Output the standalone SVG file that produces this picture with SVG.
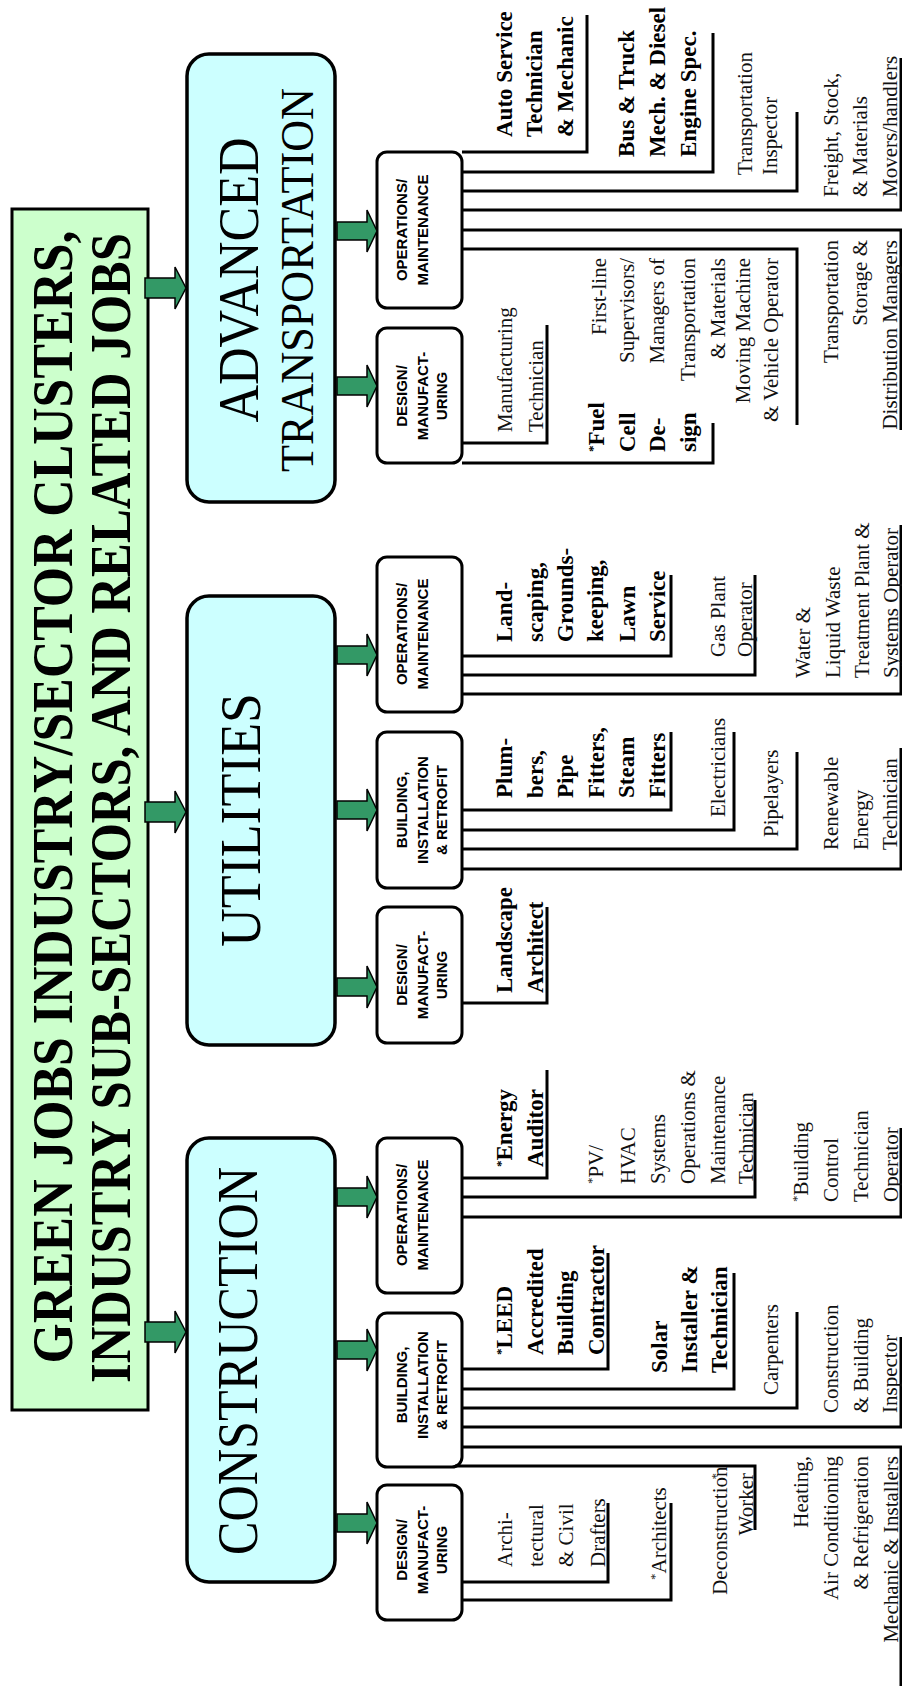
<svg xmlns="http://www.w3.org/2000/svg" width="902" height="1686" viewBox="0 0 902 1686">
<style>
.bg{fill:#fff}
.title{fill:#CCFFCC;stroke:#000;stroke-width:3}
.sector{fill:#CCFFFF;stroke:#000;stroke-width:3.5}
.sub{fill:#fff;stroke:#000;stroke-width:3}
.arrow{fill:#339966;stroke:#000;stroke-width:1.5;stroke-linejoin:miter}
.conn{fill:none;stroke:#000;stroke-width:3;stroke-linejoin:miter}
.tt{font-family:"Liberation Serif","Times New Roman",serif;font-weight:bold;font-size:56px;text-anchor:middle;fill:#000}
.st{font-family:"Liberation Serif","Times New Roman",serif;font-size:58px;text-anchor:middle;fill:#000}
.lab{font-family:"Liberation Sans",Arial,sans-serif;font-weight:bold;font-size:15px;text-anchor:middle;fill:#000}
.jb{font-family:"Liberation Serif","Times New Roman",serif;font-weight:bold;font-size:23px;fill:#000}
.jr{font-family:"Liberation Serif","Times New Roman",serif;font-size:21px;fill:#111}
.end{text-anchor:end}
.ast{font-size:13px}
</style>
<rect class="bg" x="0" y="0" width="902" height="1686"/>

<g id="title">
<rect class="title" x="12" y="209" width="136" height="1201"/>
<text class="tt" transform="rotate(-90)"><tspan x="-797" y="72" textLength="1133" lengthAdjust="spacingAndGlyphs">GREEN JOBS INDUSTRY/SECTOR CLUSTERS,</tspan><tspan x="-808" y="130" textLength="1150" lengthAdjust="spacingAndGlyphs">INDUSTRY SUB-SECTORS, AND RELATED JOBS</tspan></text>
</g>

<g id="sector-advanced-transportation">
<rect class="sector" x="187" y="54" width="148" height="448" rx="22"/>
<text class="st" transform="rotate(-90)"><tspan x="-280" y="258" textLength="285" lengthAdjust="spacingAndGlyphs">ADVANCED</tspan><tspan x="-280" y="313" font-size="46" textLength="384" lengthAdjust="spacingAndGlyphs">TRANSPORTATION</tspan></text>
</g>
<g id="sector-utilities">
<rect class="sector" x="187" y="596" width="148" height="449" rx="22"/>
<text class="st" transform="rotate(-90)" x="-820" y="260" textLength="254" lengthAdjust="spacingAndGlyphs">UTILITIES</text>
</g>
<g id="sector-construction">
<rect class="sector" x="187" y="1138" width="148" height="444" rx="22"/>
<text class="st" transform="rotate(-90)" x="-1361" y="257" textLength="388" lengthAdjust="spacingAndGlyphs">CONSTRUCTION</text>
</g>

<g id="at-om">
<rect class="sub" x="377" y="152" width="85" height="156" rx="10"/>
<text class="lab" transform="rotate(-90)"><tspan x="-230" y="407">OPERATIONS/</tspan><tspan x="-230" y="428">MAINTENANCE</tspan></text>
</g>
<g id="at-design">
<rect class="sub" x="377" y="328" width="85" height="135" rx="10"/>
<text class="lab" transform="rotate(-90)"><tspan x="-396" y="407">DESIGN/</tspan><tspan x="-396" y="428">MANUFACT-</tspan><tspan x="-396" y="447">URING</tspan></text>
</g>
<g id="ut-om">
<rect class="sub" x="377" y="557" width="85" height="155" rx="10"/>
<text class="lab" transform="rotate(-90)"><tspan x="-634" y="407">OPERATIONS/</tspan><tspan x="-634" y="428">MAINTENANCE</tspan></text>
</g>
<g id="ut-building">
<rect class="sub" x="377" y="732" width="85" height="156" rx="10"/>
<text class="lab" transform="rotate(-90)"><tspan x="-810" y="407">BUILDING,</tspan><tspan x="-810" y="428">INSTALLATION</tspan><tspan x="-810" y="447">&amp; RETROFIT</tspan></text>
</g>
<g id="ut-design">
<rect class="sub" x="377" y="907" width="85" height="136" rx="10"/>
<text class="lab" transform="rotate(-90)"><tspan x="-975" y="407">DESIGN/</tspan><tspan x="-975" y="428">MANUFACT-</tspan><tspan x="-975" y="447">URING</tspan></text>
</g>
<g id="co-om">
<rect class="sub" x="377" y="1138" width="85" height="155" rx="10"/>
<text class="lab" transform="rotate(-90)"><tspan x="-1215" y="407">OPERATIONS/</tspan><tspan x="-1215" y="428">MAINTENANCE</tspan></text>
</g>
<g id="co-building">
<rect class="sub" x="377" y="1313" width="85" height="154" rx="10"/>
<text class="lab" transform="rotate(-90)"><tspan x="-1385" y="407">BUILDING,</tspan><tspan x="-1385" y="428">INSTALLATION</tspan><tspan x="-1385" y="447">&amp; RETROFIT</tspan></text>
</g>
<g id="co-design">
<rect class="sub" x="377" y="1485" width="85" height="135" rx="10"/>
<text class="lab" transform="rotate(-90)"><tspan x="-1550" y="407">DESIGN/</tspan><tspan x="-1550" y="428">MANUFACT-</tspan><tspan x="-1550" y="447">URING</tspan></text>
</g>

<g id="connectors">
<path class="arrow" d="M145,278H175V267L186,288L175,309V298H145Z"/>
<path class="arrow" d="M145,802H175V791L186,812L175,833V822H145Z"/>
<path class="arrow" d="M145,1322H175V1311L186,1332L175,1353V1342H145Z"/>
<path class="arrow" d="M337,222H367V210L377,231L367,252V240H337Z"/>
<path class="arrow" d="M337,377H367V365L377,386L367,407V395H337Z"/>
<path class="arrow" d="M337,646H367V634L377,655L367,676V664H337Z"/>
<path class="arrow" d="M337,801H367V789L377,810L367,831V819H337Z"/>
<path class="arrow" d="M337,978H367V966L377,987L367,1008V996H337Z"/>
<path class="arrow" d="M337,1188H367V1176L377,1197L367,1218V1206H337Z"/>
<path class="arrow" d="M337,1341H367V1329L377,1350L367,1371V1359H337Z"/>
<path class="arrow" d="M337,1514H367V1502L377,1523L367,1544V1532H337Z"/>
<polyline class="conn" points="462,152 587,152 587,15"/>
<polyline class="conn" points="462,172 713,172 713,33"/>
<polyline class="conn" points="462,191 797,191 797,112"/>
<polyline class="conn" points="462,210 901,210 901,58"/>
<polyline class="conn" points="462,230 901,230 901,430"/>
<polyline class="conn" points="462,249 797,249 797,425"/>
<polyline class="conn" points="462,443 547,443 547,325"/>
<polyline class="conn" points="462,463 713,463 713,423"/>
<polyline class="conn" points="462,656 671,656 671,575"/>
<polyline class="conn" points="462,675 755,675 755,575"/>
<polyline class="conn" points="462,694 901,694 901,525"/>
<polyline class="conn" points="462,810 671,810 671,732"/>
<polyline class="conn" points="462,830 734,830 734,732"/>
<polyline class="conn" points="462,849 797,849 797,752"/>
<polyline class="conn" points="462,869 901,869 901,748"/>
<polyline class="conn" points="462,1003 547,1003 547,907"/>
<polyline class="conn" points="462,1178 547,1178 547,1070"/>
<polyline class="conn" points="462,1197 755,1197 755,1100"/>
<polyline class="conn" points="462,1217 901,1217 901,1128"/>
<polyline class="conn" points="462,1369 608,1369 608,1253"/>
<polyline class="conn" points="462,1389 734,1389 734,1273"/>
<polyline class="conn" points="462,1408 797,1408 797,1312"/>
<polyline class="conn" points="462,1427 901,1427 901,1337"/>
<polyline class="conn" points="462,1447 901,1447 901,1686"/>
<polyline class="conn" points="455,1466 755,1466 755,1530"/>
<polyline class="conn" points="462,1582 608,1582 608,1503"/>
<polyline class="conn" points="462,1600 671,1600 671,1503"/>
</g>

<g id="job-auto-service"><text class="jb" transform="rotate(-90)"><tspan x="-137" y="512">Auto Service</tspan><tspan x="-137" y="542">Technician</tspan><tspan x="-137" y="573">&amp; Mechanic</tspan></text></g>
<g id="job-bus-truck"><text class="jb" transform="rotate(-90)"><tspan x="-157" y="634">Bus &amp; Truck</tspan><tspan x="-157" y="665">Mech. &amp; Diesel</tspan><tspan x="-157" y="696">Engine Spec.</tspan></text></g>
<g id="job-transport-inspector"><text class="jr" transform="rotate(-90)"><tspan x="-175" y="752">Transportation</tspan><tspan x="-175" y="777">Inspector</tspan></text></g>
<g id="job-freight"><text class="jr" transform="rotate(-90)"><tspan x="-197" y="838">Freight, Stock,</tspan><tspan x="-197" y="867">&amp; Materials</tspan><tspan x="-197" y="897">Movers/handlers</tspan></text></g>
<g id="job-storage-managers"><text class="jr end" transform="rotate(-90)"><tspan x="-240" y="838">Transportation</tspan><tspan x="-240" y="867">Storage &amp;</tspan><tspan x="-240" y="897">Distribution Managers</tspan></text></g>
<g id="job-first-line"><text class="jr end" transform="rotate(-90)"><tspan x="-258" y="606">First-line</tspan><tspan x="-258" y="634">Supervisors/</tspan><tspan x="-258" y="664">Managers of</tspan><tspan x="-258" y="695">Transportation</tspan><tspan x="-258" y="725">&amp; Materials</tspan><tspan x="-258" y="750">Moving Machine</tspan><tspan x="-258" y="778">&amp; Vehicle Operator</tspan></text></g>
<g id="job-manufacturing-tech"><text class="jr" transform="rotate(-90)"><tspan x="-432" y="512">Manufacturing</tspan><tspan x="-432" y="543">Technician</tspan></text></g>
<g id="job-fuel-cell"><text class="jb" transform="rotate(-90)"><tspan x="-452" y="597" class="ast">*</tspan><tspan y="604">Fuel</tspan><tspan x="-452" y="635">Cell</tspan><tspan x="-452" y="665">De-</tspan><tspan x="-452" y="696">sign</tspan></text></g>

<g id="job-landscaping"><text class="jb" transform="rotate(-90)"><tspan x="-642" y="512">Land-</tspan><tspan x="-642" y="543">scaping,</tspan><tspan x="-642" y="573">Grounds-</tspan><tspan x="-642" y="603">keeping,</tspan><tspan x="-642" y="635">Lawn</tspan><tspan x="-642" y="665">Service</tspan></text></g>
<g id="job-gas-plant"><text class="jr" transform="rotate(-90)"><tspan x="-657" y="725">Gas Plant</tspan><tspan x="-657" y="752">Operator</tspan></text></g>
<g id="job-water"><text class="jr" transform="rotate(-90)"><tspan x="-678" y="810">Water &amp;</tspan><tspan x="-678" y="840">Liquid Waste</tspan><tspan x="-678" y="869">Treatment Plant &amp;</tspan><tspan x="-678" y="898">Systems Operator</tspan></text></g>
<g id="job-plumbers"><text class="jb" transform="rotate(-90)"><tspan x="-798" y="512">Plum-</tspan><tspan x="-798" y="543">bers,</tspan><tspan x="-798" y="573">Pipe</tspan><tspan x="-798" y="604">Fitters,</tspan><tspan x="-798" y="634">Steam</tspan><tspan x="-798" y="665">Fitters</tspan></text></g>
<g id="job-electricians"><text class="jr" transform="rotate(-90)" x="-817" y="725">Electricians</text></g>
<g id="job-pipelayers"><text class="jr" transform="rotate(-90)" x="-837" y="778">Pipelayers</text></g>
<g id="job-renewable"><text class="jr" transform="rotate(-90)" font-size="23"><tspan x="-850" y="838">Renewable</tspan><tspan x="-850" y="868">Energy</tspan><tspan x="-850" y="897">Technician</tspan></text></g>
<g id="job-landscape-architect"><text class="jb" transform="rotate(-90)"><tspan x="-993" y="512">Landscape</tspan><tspan x="-993" y="543">Architect</tspan></text></g>

<g id="job-energy-auditor"><text class="jb" transform="rotate(-90)"><tspan x="-1167" y="505" class="ast">*</tspan><tspan y="512">Energy</tspan><tspan x="-1167" y="543">Auditor</tspan></text></g>
<g id="job-pv-hvac"><text class="jr" transform="rotate(-90)"><tspan x="-1184" y="596" class="ast">*</tspan><tspan y="603">PV/</tspan><tspan x="-1184" y="635">HVAC</tspan><tspan x="-1184" y="665">Systems</tspan><tspan x="-1184" y="695">Operations &amp;</tspan><tspan x="-1184" y="725">Maintenance</tspan><tspan x="-1184" y="753">Technician</tspan></text></g>
<g id="job-building-control"><text class="jr" transform="rotate(-90)"><tspan x="-1202" y="801" class="ast">*</tspan><tspan y="808">Building</tspan><tspan x="-1202" y="838">Control</tspan><tspan x="-1202" y="868">Technician</tspan><tspan x="-1202" y="898">Operator</tspan></text></g>
<g id="job-leed"><text class="jb" transform="rotate(-90)"><tspan x="-1355" y="505" class="ast">*</tspan><tspan y="512">LEED</tspan><tspan x="-1355" y="543">Accredited</tspan><tspan x="-1355" y="573">Building</tspan><tspan x="-1355" y="604">Contractor</tspan></text></g>
<g id="job-solar"><text class="jb" transform="rotate(-90)"><tspan x="-1373" y="667">Solar</tspan><tspan x="-1373" y="697">Installer &amp;</tspan><tspan x="-1373" y="727">Technician</tspan></text></g>
<g id="job-carpenters"><text class="jr" transform="rotate(-90)" x="-1395" y="778">Carpenters</text></g>
<g id="job-inspector"><text class="jr" transform="rotate(-90)"><tspan x="-1413" y="838">Construction</tspan><tspan x="-1413" y="868">&amp; Building</tspan><tspan x="-1413" y="897">Inspector</tspan></text></g>
<g id="job-hvac-mechanic"><text class="jr end" transform="rotate(-90)"><tspan x="-1456" y="808">Heating,</tspan><tspan x="-1456" y="838">Air Conditioning</tspan><tspan x="-1456" y="868">&amp; Refrigeration</tspan><tspan x="-1456" y="898">Mechanic &amp; Installers</tspan></text></g>
<g id="job-deconstruction"><text class="jr end" transform="rotate(-90)"><tspan x="-1473" y="720" class="ast">*</tspan><tspan y="727">Deconstruction</tspan><tspan x="-1473" y="753">Worker</tspan></text></g>
<g id="job-drafters"><text class="jr" transform="rotate(-90)"><tspan x="-1567" y="512">Archi-</tspan><tspan x="-1567" y="543">tectural</tspan><tspan x="-1567" y="573">&amp; Civil</tspan><tspan x="-1567" y="605">Drafters</tspan></text></g>
<g id="job-architects"><text class="jr" transform="rotate(-90)"><tspan x="-1580" y="659" class="ast">*</tspan><tspan y="666">Architects</tspan></text></g>
</svg>
